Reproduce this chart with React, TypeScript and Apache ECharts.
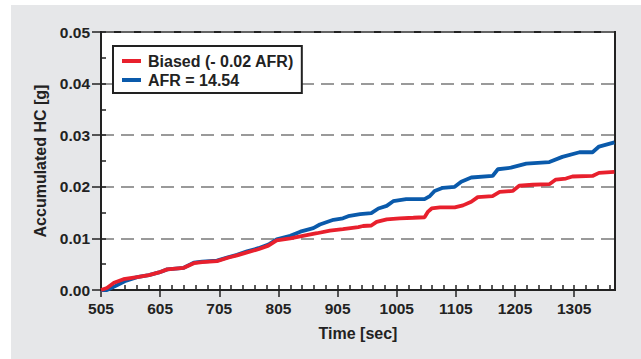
import React, { useEffect, useRef } from "react";
import * as echarts from "echarts";

// Accumulated HC over time, two runs
const biasedName = "Biased (- 0.02 AFR)";
const nominalName = "AFR = 14.54";

const biasedTime = [505, 515, 527, 543, 566, 586, 603, 617, 645, 662, 676, 701, 721, 735, 752, 771, 788, 802, 825, 842, 870, 892, 914, 940, 948, 962, 971, 988, 1010, 1033, 1052, 1058, 1064, 1078, 1103, 1117, 1131, 1142, 1167, 1179, 1201, 1212, 1235, 1263, 1274, 1291, 1302, 1336, 1347, 1373];
const biasedHC = [0, 0.0004, 0.0014, 0.0021, 0.0025, 0.0029, 0.0034, 0.004, 0.0043, 0.0052, 0.0054, 0.0056, 0.0063, 0.0067, 0.0073, 0.0079, 0.0086, 0.0096, 0.01, 0.0104, 0.011, 0.0115, 0.0118, 0.0122, 0.0124, 0.0125, 0.0132, 0.0137, 0.0139, 0.014, 0.0141, 0.0152, 0.0158, 0.016, 0.016, 0.0164, 0.0171, 0.018, 0.0182, 0.019, 0.0192, 0.0202, 0.0204, 0.0205, 0.0214, 0.0216, 0.022, 0.0221, 0.0227, 0.0229];

const nominalTime = [505, 515, 530, 545, 566, 586, 603, 617, 645, 662, 676, 701, 721, 735, 752, 771, 788, 802, 825, 842, 864, 875, 898, 914, 923, 943, 962, 974, 988, 999, 1021, 1052, 1061, 1069, 1083, 1103, 1114, 1131, 1167, 1176, 1198, 1224, 1263, 1285, 1314, 1336, 1347, 1373];
const nominalHC = [0, 0, 0.0008, 0.0017, 0.0025, 0.0029, 0.0034, 0.004, 0.0043, 0.0053, 0.0055, 0.0057, 0.0064, 0.0068, 0.0075, 0.0081, 0.0088, 0.0098, 0.0105, 0.0113, 0.012, 0.0127, 0.0136, 0.0139, 0.0143, 0.0147, 0.0149, 0.0158, 0.0163, 0.0172, 0.0176, 0.0176, 0.0182, 0.0192, 0.0198, 0.02, 0.021, 0.0218, 0.0221, 0.0234, 0.0237, 0.0245, 0.0248, 0.0258, 0.0267, 0.0267, 0.0278, 0.0286];

const timeMin = 505;
const timeMax = 1374;
const timeStep = 100;
const timeMinorStep = 20;
const hcMin = 0;
const hcMax = 0.05;
const hcStep = 0.01;
const hcMinorStep = 0.005;

const RED = "#e8202d";
const BLUE = "#0a5aab";
const INK = "#222";
const FONT = "'Liberation Sans', Arial, Helvetica, sans-serif";

const zip = (xs: number[], ys: number[]) => xs.map((x, i) => [x, ys[i]]);

export default function App() {
  const ref = useRef<HTMLDivElement>(null);

  useEffect(() => {
    if (!ref.current) return;
    const chart = echarts.init(ref.current, undefined, { renderer: "svg" });
    const labelStyle = {
      fontFamily: FONT,
      fontWeight: "bold" as const,
      fontSize: 15.5,
      color: INK,
    };
    chart.setOption({
      animation: false,
      backgroundColor: "transparent",
      grid: {
        left: 101,
        top: 32,
        width: 514,
        height: 258,
        show: true,
        backgroundColor: "#fff",
        borderColor: INK,
        borderWidth: 2,
      },
      legend: {
        orient: "vertical",
        left: 113,
        top: 46,
        data: [biasedName, nominalName],
        icon: "rect",
        itemWidth: 19,
        itemHeight: 4,
        itemGap: 3,
        padding: [7, 8, 5, 9],
        backgroundColor: "#fff",
        borderColor: INK,
        borderWidth: 2,
        borderRadius: 0,
        selectedMode: false,
        textStyle: {
          fontFamily: FONT,
          fontWeight: "bold",
          fontSize: 16,
          lineHeight: 16,
          color: INK,
          padding: [0, 0, 0, 2],
        },
      },
      xAxis: [
        {
          type: "value",
          min: timeMin,
          max: timeMax,
          interval: timeStep,
          name: "Time [sec]",
          nameLocation: "middle",
          nameGap: 35,
          nameTextStyle: { ...labelStyle, fontSize: 16 },
          axisLine: { show: true, lineStyle: { color: INK, width: 2 } },
          axisTick: { show: true, inside: false, length: 7, lineStyle: { color: INK, width: 1.5 } },
          axisLabel: { ...labelStyle, margin: 10, showMaxLabel: false, formatter: (v: number) => String(v) },
          splitLine: { show: false },
        },
        {
          type: "value",
          position: "bottom",
          min: timeMin,
          max: timeMax,
          interval: timeMinorStep,
          axisLine: { show: false },
          axisTick: { show: true, inside: true, length: 5, lineStyle: { color: INK, width: 1.5 } },
          axisLabel: { show: false },
          splitLine: { show: false },
        },
      ],
      yAxis: [
        {
          type: "value",
          min: hcMin,
          max: hcMax,
          interval: hcStep,
          name: "Accumulated HC [g]",
          nameLocation: "middle",
          nameGap: 52,
          nameTextStyle: { ...labelStyle, fontSize: 16 },
          axisLine: { show: true, lineStyle: { color: INK, width: 2 } },
          axisTick: { show: true, inside: false, length: 9, lineStyle: { color: INK, width: 1.5 } },
          axisLabel: { ...labelStyle, margin: 11, formatter: (v: number) => v.toFixed(2) },
          splitLine: {
            show: true,
            lineStyle: { color: "#7a7a7a", width: 1.5, type: [13, 7] },
          },
        },
        {
          type: "value",
          position: "left",
          min: hcMin,
          max: hcMax,
          interval: hcMinorStep,
          axisLine: { show: false },
          axisTick: { show: true, inside: true, length: 5, lineStyle: { color: INK, width: 1.5 } },
          axisLabel: { show: false },
          splitLine: { show: false },
        },
      ],
      series: [
        {
          name: nominalName,
          type: "line",
          data: zip(nominalTime, nominalHC),
          showSymbol: false,
          symbol: "none",
          color: BLUE,
          lineStyle: { color: BLUE, width: 3.8 },
        },
        {
          name: biasedName,
          type: "line",
          data: zip(biasedTime, biasedHC),
          showSymbol: false,
          symbol: "none",
          color: RED,
          lineStyle: { color: RED, width: 3.8 },
        },
      ],
    });
    return () => chart.dispose();
  }, []);

  return (
    <div style={{ position: "fixed", left: 0, top: 0, width: 641, height: 359, background: "#fff" }}>
      <div style={{ position: "absolute", left: 11, top: 5, width: 630, height: 354, background: "#e6e7e9" }} />
      <div ref={ref} style={{ position: "absolute", left: 0, top: 0, width: 641, height: 359 }} />
    </div>
  );
}
